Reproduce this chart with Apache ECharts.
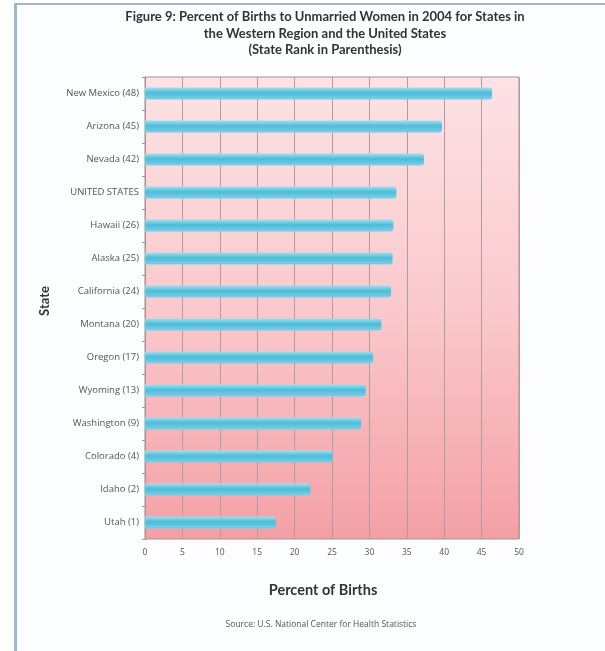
<!DOCTYPE html>
<html>
<head>
<meta charset="utf-8">
<script src="https://cdn.jsdelivr.net/npm/echarts@6/dist/echarts.min.js"></script>
<style>
  html, body { margin: 0; padding: 0; background: #ffffff; }
  #chart { width: 605px; height: 651px; }
</style>
</head>
<body>
<div id="chart"></div>
<script>
// States of the Western region plus the national figure, top to bottom
const states = [
  'New Mexico (48)', 'Arizona (45)', 'Nevada (42)', 'UNITED STATES',
  'Hawaii (26)', 'Alaska (25)', 'California (24)', 'Montana (20)',
  'Oregon (17)', 'Wyoming (13)', 'Washington (9)', 'Colorado (4)',
  'Idaho (2)', 'Utah (1)'
];
// Percent of births to unmarried women, 2004
const percents = [46.4, 39.7, 37.3, 33.6, 33.2, 33.1, 32.9, 31.6, 30.5, 29.5, 28.9, 25.1, 22.1, 17.5];
const xTicks = [0, 5, 10, 15, 20, 25, 30, 35, 40, 45, 50];

const titleText = 'Figure 9: Percent of Births to Unmarried Women in 2004 for States in\nthe Western Region and the United States\n(State Rank in Parenthesis)';
const xAxisTitle = 'Percent of Births';
const sourceText = 'Source: U.S. National Center for Health Statistics';

const chart = echarts.init(document.getElementById('chart'), null, { renderer: 'canvas' });

const boldFam = 'Lato, "Open Sans", sans-serif';
const bodyFam = '"Open Sans", Lato, sans-serif';

chart.setOption({
  backgroundColor: '#ffffff',
  animation: false,
  graphic: [
    // page frame
    { type: 'rect', shape: { x: 16, y: 4, width: 620, height: 660 }, style: { fill: '#fcfdfe', stroke: 'none' }, z: -10 },
    { type: 'rect', shape: { x: 14, y: 3, width: 3, height: 660 }, style: { fill: '#a3b5c9' }, z: -9 },
    { type: 'rect', shape: { x: 14, y: 3, width: 600, height: 2 }, style: { fill: '#a3b5c9' }, z: -9 }
  ],
  title: [
    {
      text: titleText,
      left: 320, top: 4, textAlign: 'center',
      textStyle: { fontFamily: boldFam, fontSize: 13, fontWeight: 'bold', color: '#333333', lineHeight: 16.5 }
    },
    {
      text: xAxisTitle,
      left: 318, top: 578, textAlign: 'center',
      textStyle: { fontFamily: boldFam, fontSize: 14.5, fontWeight: 'bold', color: '#333333' }
    },
    {
      text: sourceText,
      left: 316, top: 615, textAlign: 'center',
      textStyle: { fontFamily: bodyFam, fontSize: 8.5, fontWeight: 'normal', color: '#555555' }
    }
  ],
  grid: {
    left: 145, right: 86, top: 77, bottom: 112,
    show: true,
    borderColor: '#a89092',
    borderWidth: 1,
    backgroundColor: new echarts.graphic.LinearGradient(0, 0, 0, 1, [
      { offset: 0, color: '#fde2e5' },
      { offset: 0.5, color: '#fac9cd' },
      { offset: 1, color: '#f3a0a6' }
    ])
  },
  xAxis: {
    type: 'value',
    min: xTicks[0], max: xTicks[xTicks.length - 1], interval: 5,
    axisLine: { show: false },
    axisTick: { show: false },
    axisLabel: { fontFamily: bodyFam, fontSize: 8.5, color: '#555555', margin: 9 },
    splitLine: { show: true, lineStyle: { color: '#b39a9c', width: 1 } }
  },
  yAxis: {
    type: 'category',
    data: states,
    inverse: true,
    name: 'State',
    nameLocation: 'middle',
    nameGap: 94,
    nameRotate: 90,
    nameTextStyle: { fontFamily: boldFam, fontSize: 13, fontWeight: 'bold', color: '#333333', padding: [0, 0, 0, 14] },
    axisLine: { show: true, lineStyle: { color: '#a89092' } },
    axisTick: { show: true, length: 3, lineStyle: { color: '#a89092' } },
    axisLabel: { fontFamily: bodyFam, fontSize: 9.5, color: '#555555', margin: 6 },
    splitLine: { show: false }
  },
  series: [{
    type: 'bar',
    data: percents,
    barWidth: 12,
    itemStyle: {
      color: new echarts.graphic.LinearGradient(0, 0, 0, 1, [
        { offset: 0, color: '#9fe0f0' },
        { offset: 0.45, color: '#4dbcd9' },
        { offset: 1, color: '#7dcfe6' }
      ]),
      borderRadius: [0, 3, 3, 0]
    }
  }]
});
</script>
</body>
</html>
